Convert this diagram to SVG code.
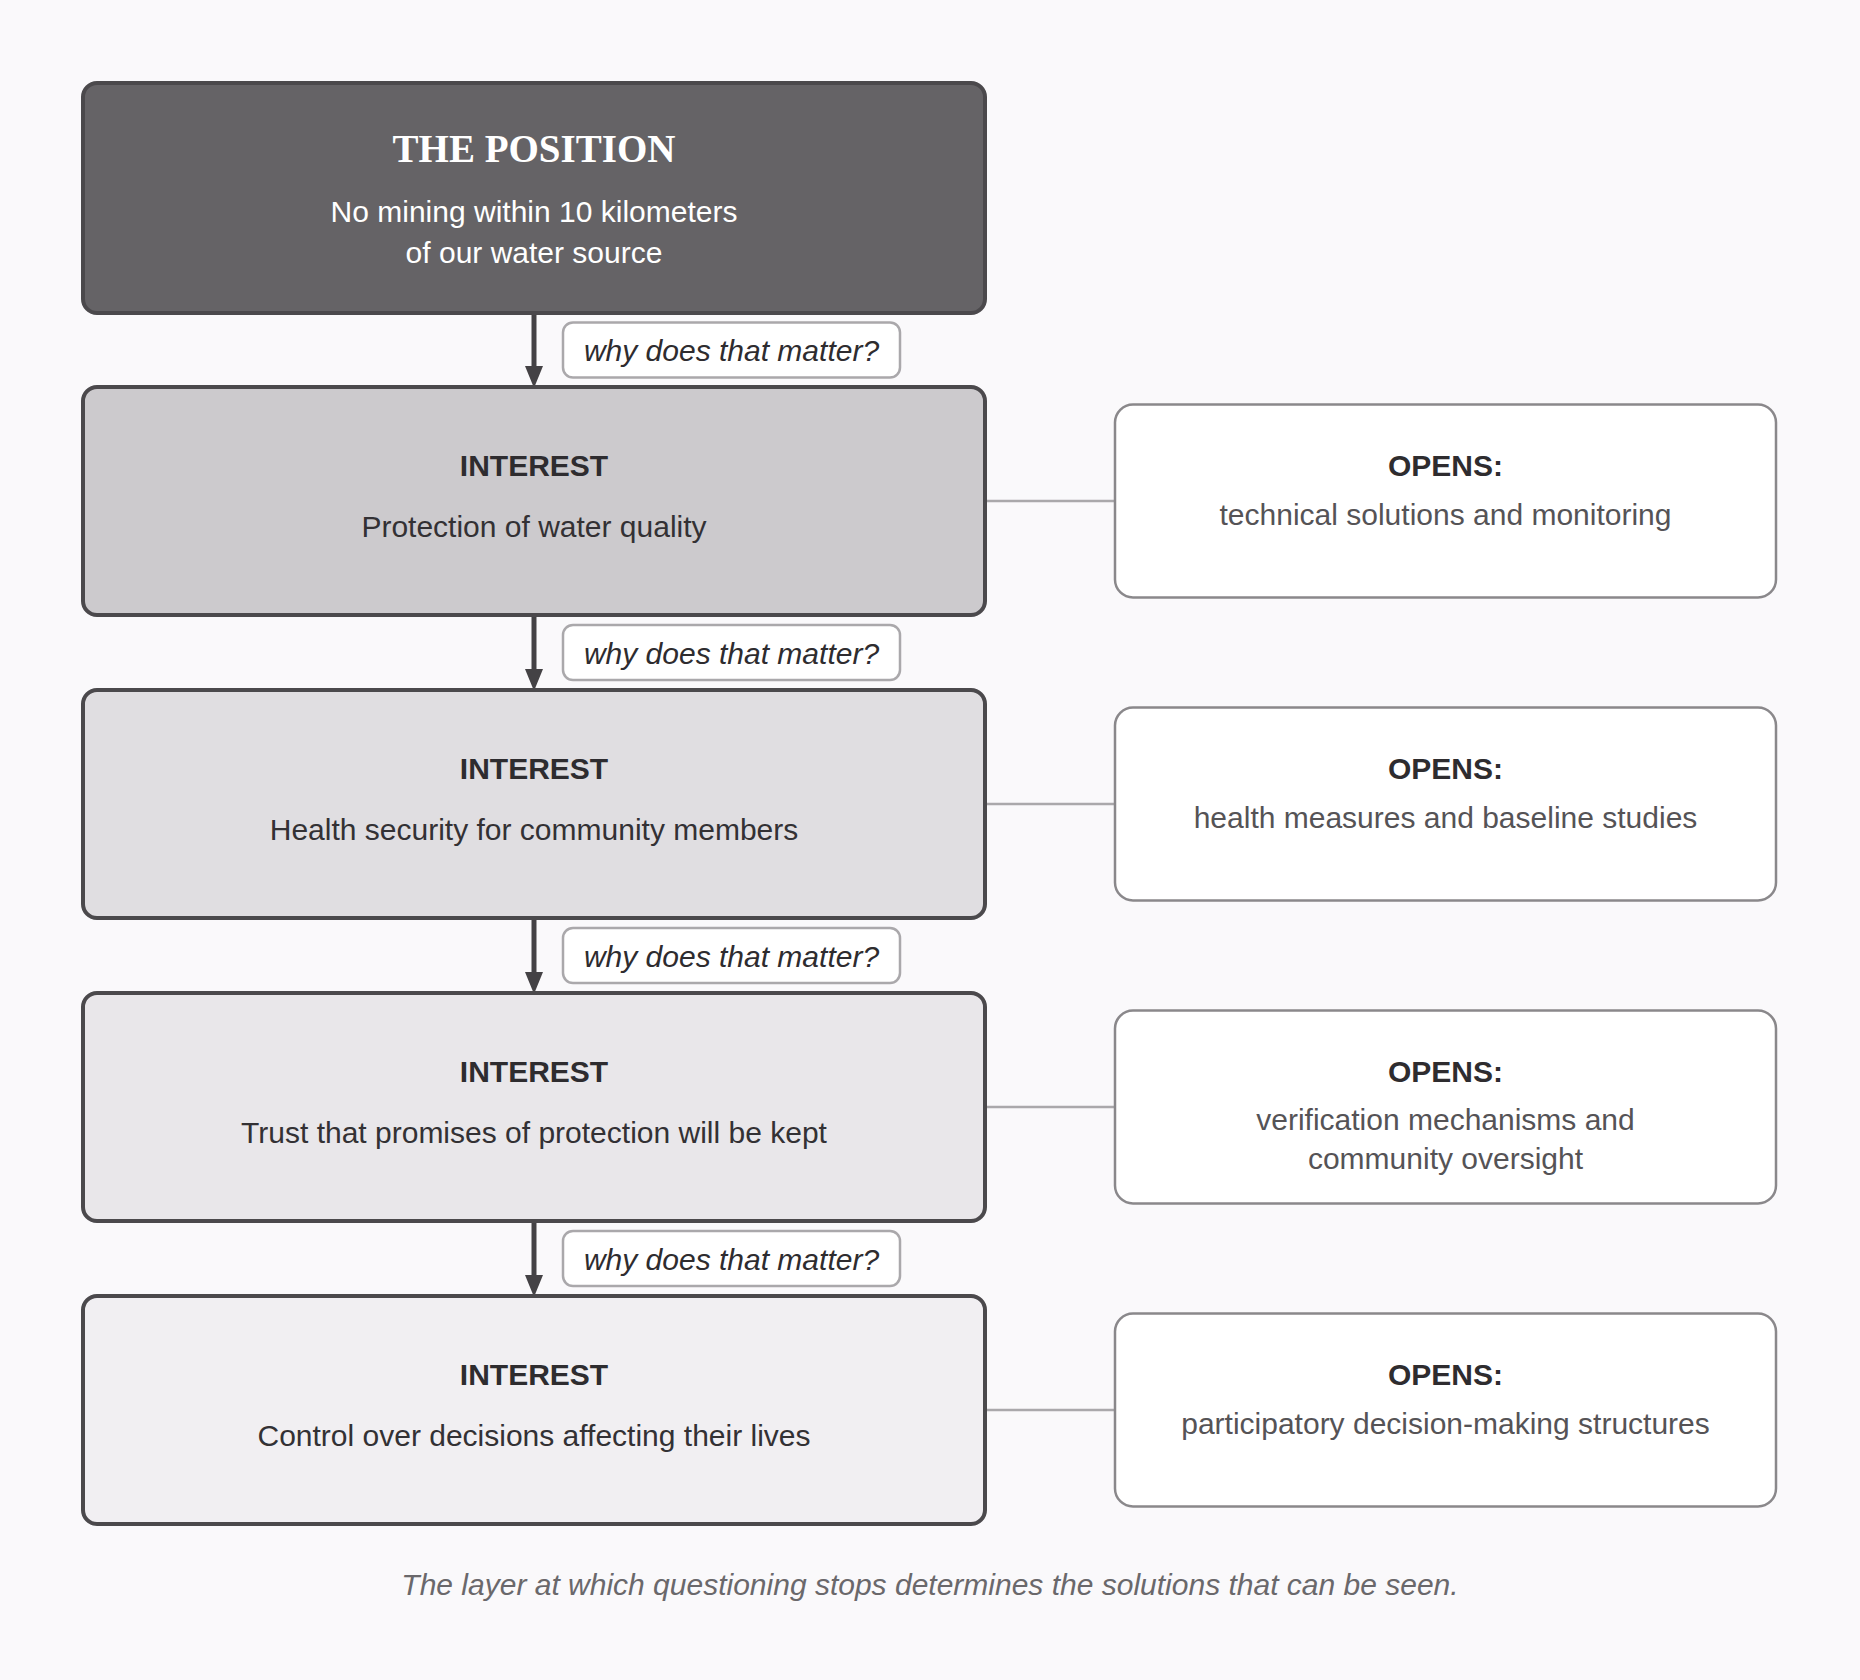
<svg xmlns="http://www.w3.org/2000/svg" width="1860" height="1680" viewBox="0 0 1860 1680">
<defs>
<style>
.bg{fill:#faf9fb}
.box{stroke:#4b494c;stroke-width:4}
.pos{fill:#656366}
.i1{fill:#cccacd}
.i2{fill:#e0dee1}
.i3{fill:#e9e7ea}
.i4{fill:#f1eff2}
.opens{fill:#ffffff;stroke:#8a888b;stroke-width:2.5}
.lbl{fill:#ffffff;stroke:#aaa8ab;stroke-width:2.5}
.arrow{stroke:#444245;stroke-width:5;fill:none}
.conn{stroke:#aaa8ab;stroke-width:2.5;fill:none}
text{font-family:"Liberation Sans",Arial,Helvetica,sans-serif;text-anchor:middle;font-size:30px}
.title{font-family:"Liberation Serif","Times New Roman",serif;font-weight:bold;font-size:39px;fill:#ffffff}
.ptxt{fill:#ffffff}
.head{font-weight:bold;fill:#2e2c2f}
.body{fill:#333134}
.obody{fill:#555356}
.why{font-style:italic;fill:#2e2c2f}
.foot{font-style:italic;fill:#6a686b}
</style>
<marker id="ah" markerUnits="userSpaceOnUse" markerWidth="22" markerHeight="18" viewBox="0 0 22 18" refX="0" refY="9" orient="auto">
<path d="M0,0 L22,9 L0,18 Z" fill="#444245"/>
</marker>
</defs>
<rect class="bg" x="0" y="0" width="1860" height="1680"/>

<g id="connectors">
<line class="arrow" x1="534" y1="315" x2="534" y2="366" marker-end="url(#ah)"/>
<line class="arrow" x1="534" y1="617" x2="534" y2="669" marker-end="url(#ah)"/>
<line class="arrow" x1="534" y1="920" x2="534" y2="972" marker-end="url(#ah)"/>
<line class="arrow" x1="534" y1="1223" x2="534" y2="1275" marker-end="url(#ah)"/>
<line class="conn" x1="985" y1="501" x2="1115" y2="501"/>
<line class="conn" x1="985" y1="804" x2="1115" y2="804"/>
<line class="conn" x1="985" y1="1107" x2="1115" y2="1107"/>
<line class="conn" x1="985" y1="1410" x2="1115" y2="1410"/>
<g id="label1"><rect class="lbl" x="563" y="322.5" width="337" height="55" rx="10"/><text class="why" x="731.5" y="361">why does that matter?</text></g>
<g id="label2"><rect class="lbl" x="563" y="625" width="337" height="55" rx="10"/><text class="why" x="731.5" y="663.5">why does that matter?</text></g>
<g id="label3"><rect class="lbl" x="563" y="928" width="337" height="55" rx="10"/><text class="why" x="731.5" y="966.5">why does that matter?</text></g>
<g id="label4"><rect class="lbl" x="563" y="1231" width="337" height="55" rx="10"/><text class="why" x="731.5" y="1269.5">why does that matter?</text></g>
</g>

<g id="position">
<rect class="box pos" x="83" y="83" width="902" height="230" rx="14"/>
<text class="title" x="534" y="162">THE POSITION</text>
<text class="ptxt" x="534" y="222">No mining within 10 kilometers</text>
<text class="ptxt" x="534" y="263">of our water source</text>
</g>

<g id="interest1">
<rect class="box i1" x="83" y="387" width="902" height="228" rx="14"/>
<text class="head" x="534" y="476">INTEREST</text>
<text class="body" x="534" y="537">Protection of water quality</text>
</g>
<g id="opens1">
<rect class="opens" x="1115" y="404.5" width="661" height="193" rx="18"/>
<text class="head" x="1445.5" y="476">OPENS:</text>
<text class="obody" x="1445.5" y="525">technical solutions and monitoring</text>
</g>

<g id="interest2">
<rect class="box i2" x="83" y="690" width="902" height="228" rx="14"/>
<text class="head" x="534" y="779">INTEREST</text>
<text class="body" x="534" y="840">Health security for community members</text>
</g>
<g id="opens2">
<rect class="opens" x="1115" y="707.5" width="661" height="193" rx="18"/>
<text class="head" x="1445.5" y="779">OPENS:</text>
<text class="obody" x="1445.5" y="828">health measures and baseline studies</text>
</g>

<g id="interest3">
<rect class="box i3" x="83" y="993" width="902" height="228" rx="14"/>
<text class="head" x="534" y="1082">INTEREST</text>
<text class="body" x="534" y="1143">Trust that promises of protection will be kept</text>
</g>
<g id="opens3">
<rect class="opens" x="1115" y="1010.5" width="661" height="193" rx="18"/>
<text class="head" x="1445.5" y="1082">OPENS:</text>
<text class="obody" x="1445.5" y="1130">verification mechanisms and</text>
<text class="obody" x="1445.5" y="1169">community oversight</text>
</g>

<g id="interest4">
<rect class="box i4" x="83" y="1296" width="902" height="228" rx="14"/>
<text class="head" x="534" y="1385">INTEREST</text>
<text class="body" x="534" y="1446">Control over decisions affecting their lives</text>
</g>
<g id="opens4">
<rect class="opens" x="1115" y="1313.5" width="661" height="193" rx="18"/>
<text class="head" x="1445.5" y="1385">OPENS:</text>
<text class="obody" x="1445.5" y="1434">participatory decision-making structures</text>
</g>

<text class="foot" x="930" y="1595">The layer at which questioning stops determines the solutions that can be seen.</text>
</svg>
